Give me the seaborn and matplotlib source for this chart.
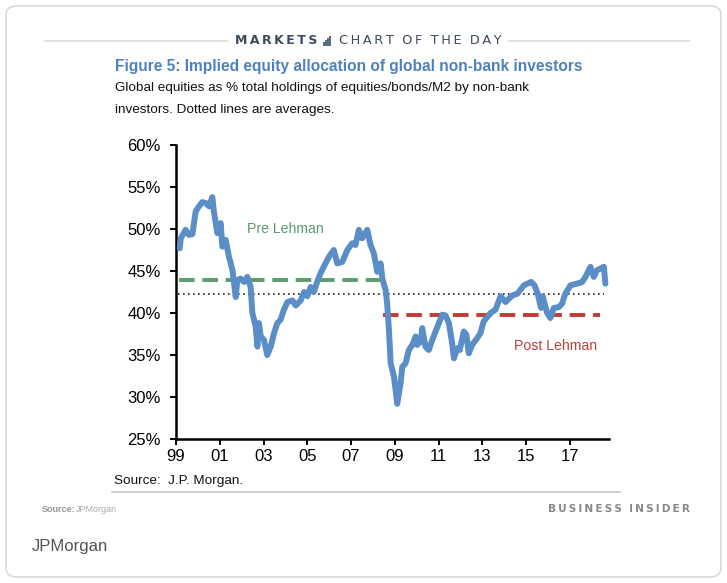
import matplotlib
matplotlib.use("Agg")
import matplotlib.pyplot as plt
import seaborn as sns
import pandas as pd
from matplotlib.patches import FancyBboxPatch, Rectangle
from matplotlib.lines import Line2D

# ---- data ----
years = [1999.17, 1999.22, 1999.44, 1999.59, 1999.75, 1999.90, 2000.05, 2000.20, 2000.36, 2000.51,
         2000.66, 2000.73, 2000.89, 2001.04, 2001.12, 2001.27, 2001.42, 2001.58, 2001.73, 2001.80,
         2001.95, 2002.11, 2002.26, 2002.41, 2002.49, 2002.64, 2002.72, 2002.79, 2002.87, 2003.02,
         2003.17, 2003.33, 2003.48, 2003.63, 2003.78, 2003.93, 2004.09, 2004.32, 2004.47, 2004.70,
         2004.85, 2005.00, 2005.15, 2005.30, 2005.45, 2005.60, 2005.75, 2005.99, 2006.21, 2006.37,
         2006.60, 2006.83, 2007.05, 2007.20, 2007.36, 2007.51, 2007.74, 2007.89, 2008.04, 2008.20,
         2008.35, 2008.43, 2008.58, 2008.65, 2008.73, 2008.81, 2008.96, 2009.11, 2009.26, 2009.34,
         2009.49, 2009.64, 2009.80, 2009.95, 2010.02, 2010.18, 2010.25, 2010.40, 2010.55, 2010.71,
         2010.86, 2011.01, 2011.17, 2011.32, 2011.47, 2011.62, 2011.70, 2011.85, 2011.97, 2012.15,
         2012.27, 2012.38, 2012.53, 2012.76, 2012.91, 2013.06, 2013.37, 2013.60, 2013.83, 2014.06,
         2014.21, 2014.38, 2014.60, 2014.90, 2015.23, 2015.38, 2015.53, 2015.68, 2015.75, 2015.96,
         2016.11, 2016.26, 2016.49, 2016.64, 2016.79, 2017.03, 2017.33, 2017.56, 2017.71, 2017.94,
         2018.09, 2018.24, 2018.40, 2018.55, 2018.62]
allocation = [47.7, 48.9, 49.9, 49.3, 49.4, 52.1, 52.7, 53.2, 53.1, 52.7,
              53.8, 52.1, 49.5, 50.7, 47.9, 48.7, 46.7, 45.1, 41.9, 43.9,
              44.1, 43.7, 44.3, 43.1, 40.0, 38.4, 36.0, 38.8, 37.2, 36.8,
              35.0, 36.0, 37.6, 38.8, 39.2, 40.4, 41.3, 41.5, 40.9, 41.5,
              42.5, 42.0, 43.1, 42.5, 43.7, 44.7, 45.5, 46.7, 47.5, 45.9,
              46.1, 47.5, 48.3, 48.1, 49.9, 48.9, 49.9, 48.1, 47.1, 44.9,
              45.9, 44.1, 42.7, 41.1, 38.0, 34.0, 32.4, 29.2, 31.6, 33.6,
              34.0, 35.6, 36.2, 37.2, 36.2, 36.6, 38.2, 36.0, 35.6, 36.8,
              37.8, 38.8, 39.8, 39.7, 38.8, 36.4, 34.6, 35.8, 35.6, 37.8,
              37.4, 35.2, 36.2, 37.0, 37.6, 39.0, 40.0, 40.4, 42.0, 41.3,
              41.7, 42.1, 42.3, 43.3, 43.7, 43.3, 42.3, 40.6, 42.0, 40.0,
              39.4, 40.6, 40.7, 41.1, 42.3, 43.3, 43.5, 43.7, 44.3, 45.5,
              44.3, 45.1, 45.3, 45.5, 43.5]

pre_span = [1999.12, 2008.43]
pre_avg = 43.9
post_span = [2008.48, 2018.39]
post_avg = 39.8
all_span = [1999.07, 2018.57]
all_avg = 42.3

xtick_years = [1999, 2001, 2003, 2005, 2007, 2009, 2011, 2013, 2015, 2017]
xtick_labels = ["99", "01", "03", "05", "07", "09", "11", "13", "15", "17"]
ytick_vals = [25, 30, 35, 40, 45, 50, 55, 60]
ytick_labels = ["25%", "30%", "35%", "40%", "45%", "50%", "55%", "60%"]

df = pd.DataFrame({"year": years, "allocation": allocation})

sns.set_theme(style="white")
plt.rcParams["font.family"] = ["Liberation Sans", "DejaVu Sans"]

W, H = 727, 583
fig = plt.figure(figsize=(W / 100, H / 100), dpi=100)
fig.patch.set_facecolor("white")

def fx(x):
    return x / W

def fy(y):
    return 1 - y / H

# card border
fig.patches.append(FancyBboxPatch((fx(6), fy(577)), fx(715), (571) / H,
                                  boxstyle="round,pad=0,rounding_size=0.015",
                                  transform=fig.transFigure, facecolor="none",
                                  edgecolor="#d9d9d9", linewidth=1.2, zorder=0))

ax = fig.add_axes([fx(176), fy(439), fx(609.3 - 176), (439 - 145) / H])

ax.plot(all_span, [all_avg, all_avg], color="#222222", linestyle=(0, (1, 2)), linewidth=1.2, zorder=2)
ax.plot(pre_span, [pre_avg, pre_avg], color="#5b9c6c", linestyle=(0, (4, 2)), linewidth=2.8, zorder=3)
ax.plot(post_span, [post_avg, post_avg], color="#c23b34", linestyle=(0, (4, 2)), linewidth=2.8, zorder=3)
sns.lineplot(data=df, x="year", y="allocation", ax=ax, color="#5b8dc7", linewidth=4.3,
             zorder=4, estimator=None, sort=False)

ax.set_xlim(1999, 2018.8)
ax.set_ylim(25, 60)
ax.set_xticks(xtick_years)
ax.set_xticklabels(xtick_labels)
ax.set_yticks(ytick_vals)
ax.set_yticklabels(ytick_labels)
ax.set_xlabel("")
ax.set_ylabel("")
for s in ["top", "right"]:
    ax.spines[s].set_visible(False)
for s in ["left", "bottom"]:
    ax.spines[s].set_color("black")
    ax.spines[s].set_linewidth(1.8)
ax.tick_params(axis="both", which="major", direction="out", length=4.3, width=1.4,
               colors="black", labelsize=12, pad=3, left=True, bottom=True)
ax.tick_params(axis="y", pad=6.5)
ax.set_facecolor("white")

ax.text(2004.0, 50.0, "Pre Lehman", color="#5b9c6c", fontsize=10.2, ha="center", va="center")
ax.text(2016.35, 36.1, "Post Lehman", color="#b7413b", fontsize=10.2, ha="center", va="center")

# header
ts = "\u2009"
fig.add_artist(Line2D([fx(45), fx(228)], [fy(41), fy(41)], color="#dddddd", linewidth=1.2))
fig.add_artist(Line2D([fx(509), fx(690)], [fy(41), fy(41)], color="#dddddd", linewidth=1.2))
fig.text(fx(235), fy(41), ts.join("MARKETS"), color="#3b4a5e", fontsize=9, fontweight="bold",
         ha="left", va="center", family=["DejaVu Sans"])
for i, h in enumerate([4, 6, 8, 10]):
    fig.patches.append(Rectangle((fx(323 + i * 2), fy(46)), 1.6 / W, h / H,
                                 transform=fig.transFigure, facecolor="#5b6b80",
                                 edgecolor="none"))
fig.text(fx(339), fy(41), "  ".join(ts.join(w) for w in ["CHART", "OF", "THE", "DAY"]),
         color="#3b4a5e", fontsize=9.3, ha="left", va="center", family=["DejaVu Sans"])

fig.text(fx(115), fy(67), "Figure 5: Implied equity allocation of global non-bank investors",
         color="#4f81bd", fontsize=11.2, fontweight="bold", ha="left", va="center")
fig.text(fx(115), fy(88), "Global equities as % total holdings of equities/bonds/M2 by non-bank",
         color="#111111", fontsize=9.7, ha="left", va="center")
fig.text(fx(115), fy(110), "investors. Dotted lines are averages.",
         color="#111111", fontsize=9.7, ha="left", va="center")

fig.text(fx(114), fy(481), "Source:  J.P. Morgan.", color="#111111", fontsize=9.7,
         ha="left", va="center")
fig.add_artist(Line2D([fx(112), fx(620)], [fy(492), fy(492)], color="#d0d0d0", linewidth=1.5))

fig.text(fx(42), fy(509), "Source:", color="#999999", fontsize=6.5, fontweight="bold",
         ha="left", va="center")
fig.text(fx(76), fy(509), "JPMorgan", color="#aaaaaa", fontsize=6.5,
         ha="left", va="center")
fig.text(fx(690), fy(509), "  ".join(ts.join(w) for w in ["BUSINESS", "INSIDER"]),
         color="#888888", fontsize=7.6, fontweight="bold", ha="right", va="center",
         family=["DejaVu Sans"])
fig.text(fx(32), fy(547), "JPMorgan", color="#555555", fontsize=12,
         ha="left", va="center")

fig.savefig("out.png", dpi=100, facecolor="white")
